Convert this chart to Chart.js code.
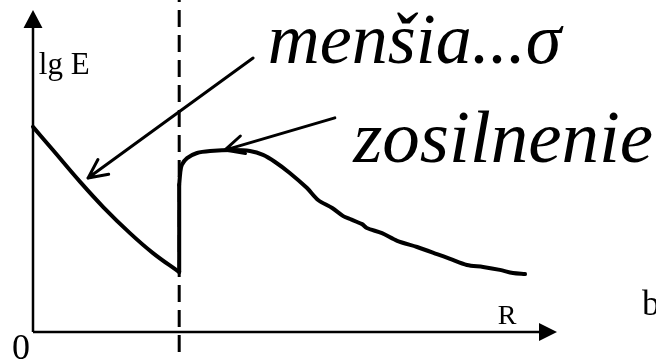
<!DOCTYPE html>
<html>
<head>
<meta charset="utf-8">
<script src="https://cdn.jsdelivr.net/npm/chart.js@4"></script>
<style>
  html, body { margin: 0; padding: 0; background: #fff; }
  #wrap { width: 656px; height: 359px; }
</style>
</head>
<body>
<div id="wrap"><canvas id="chart" width="656" height="359"></canvas></div>
<script>
// values (R on x, lg E on y, arbitrary units 0..10)
const leftR = [0, 0.38, 0.90, 1.34, 1.85, 2.29, 2.79]
const leftLgE = [6.37, 5.65, 4.66, 3.88, 3.07, 2.45, 1.86]

const jumpR = [2.79, 2.79]
const jumpLgE = [1.86, 4.57]

const rightR = [2.79, 2.81, 2.84, 2.94, 3.13, 3.38, 3.82, 4.14, 4.39, 4.62, 4.90, 5.23, 5.44, 5.71,
  5.92, 6.05, 6.28, 6.37, 6.66, 6.95, 7.33, 7.71, 7.96, 8.28, 8.59, 8.91, 9.16, 9.39]
const rightLgE = [4.57, 4.94, 5.19, 5.40, 5.56, 5.62, 5.65, 5.62, 5.50, 5.28, 4.94, 4.47, 4.10, 3.85,
  3.60, 3.51, 3.35, 3.23, 3.07, 2.83, 2.64, 2.42, 2.27, 2.08, 2.02, 1.93, 1.83, 1.80]

const boundaryR = 2.79
const boundaryLgE = [10.4, -1]

const toPoints = (xs, ys) => xs.map((x, i) => ({x, y: ys[i]}))

// annotations: [text, R, lgE (baseline), font]
const labels = [
  ["lg E", 0.11, 8.01, "31px 'Liberation Serif', serif"],
  ["menšia...σ", 4.48, 8.35, "italic 72px 'Liberation Serif', serif"],
  ["zosilnenie", 6.11, 5.28, "italic 75px 'Liberation Serif', serif"],
  ["R", 8.87, 0.25, "28px 'Liberation Serif', serif"],
  ["b", 11.62, 0.53, "36px 'Liberation Serif', serif"],
  ["0", -0.40, -0.84, "36px 'Liberation Serif', serif"]
]

// arrows: from [R, lgE] to tip [R, lgE]
const pointers = [
  [[4.20, 8.51], [1.05, 4.78]],
  [[5.76, 6.65], [3.66, 5.65]]
]

const sketchPlugin = {
  id: "sketch",
  beforeDatasetsDraw(chart) {
    const {ctx, scales: {x, y}} = chart
    const x0 = x.getPixelForValue(0)
    const y0 = y.getPixelForValue(0)
    const xEnd = x.getPixelForValue(10)
    const yEnd = y.getPixelForValue(10)

    ctx.save()
    ctx.strokeStyle = "#000"
    ctx.fillStyle = "#000"
    ctx.lineWidth = 2.5

    // axes
    ctx.beginPath()
    ctx.moveTo(x0, y0)
    ctx.lineTo(x0, yEnd + 16)
    ctx.moveTo(x0, y0)
    ctx.lineTo(xEnd - 16, y0)
    ctx.stroke()

    ctx.beginPath()
    ctx.moveTo(x0, yEnd)
    ctx.lineTo(x0 - 9.5, yEnd + 18)
    ctx.lineTo(x0 + 9.5, yEnd + 18)
    ctx.closePath()
    ctx.moveTo(xEnd, y0)
    ctx.lineTo(xEnd - 18, y0 - 9)
    ctx.lineTo(xEnd - 18, y0 + 9)
    ctx.closePath()
    ctx.fill()
    ctx.restore()
  },
  afterDatasetsDraw(chart) {
    const {ctx, scales: {x, y}} = chart
    ctx.save()
    ctx.strokeStyle = "#000"
    ctx.fillStyle = "#000"
    ctx.lineWidth = 3
    ctx.lineCap = "round"

    pointers.forEach(([from, to]) => {
      const fx = x.getPixelForValue(from[0]), fy = y.getPixelForValue(from[1])
      const tx = x.getPixelForValue(to[0]), ty = y.getPixelForValue(to[1])
      const a = Math.atan2(fy - ty, fx - tx)
      ctx.beginPath()
      ctx.moveTo(fx, fy)
      ctx.lineTo(tx, ty)
      ;[-0.45, 0.45].forEach(d => {
        ctx.moveTo(tx, ty)
        ctx.lineTo(tx + 21 * Math.cos(a + d), ty + 21 * Math.sin(a + d))
      })
      ctx.stroke()
    })

    ctx.textBaseline = "alphabetic"
    ctx.textAlign = "left"
    labels.forEach(([text, r, v, font]) => {
      ctx.font = font
      ctx.fillText(text, x.getPixelForValue(r), y.getPixelForValue(v))
    })
    ctx.restore()
  }
}

const curveStyle = {
  borderColor: "#000",
  borderWidth: 4,
  pointRadius: 0,
  fill: false,
  borderCapStyle: "round",
  borderJoinStyle: "round",
  clip: false
}

new Chart(document.getElementById("chart"), {
  type: "line",
  data: {
    datasets: [
      {...curveStyle, data: toPoints(leftR, leftLgE), tension: 0.4},
      {...curveStyle, data: toPoints(jumpR, jumpLgE), tension: 0},
      {...curveStyle, data: toPoints(rightR, rightLgE), tension: 0.3},
      {
        ...curveStyle,
        data: toPoints([boundaryR, boundaryR], boundaryLgE),
        borderWidth: 3,
        borderCapStyle: "butt",
        borderDash: [17, 8],
        borderDashOffset: 12,
        tension: 0
      }
    ]
  },
  options: {
    responsive: false,
    animation: false,
    layout: {padding: {left: 33, right: 99, top: 10, bottom: 27}},
    scales: {
      x: {type: "linear", min: 0, max: 10, display: false},
      y: {type: "linear", min: 0, max: 10, display: false}
    },
    plugins: {legend: {display: false}, tooltip: {enabled: false}}
  },
  plugins: [sketchPlugin]
})
</script>
</body>
</html>
